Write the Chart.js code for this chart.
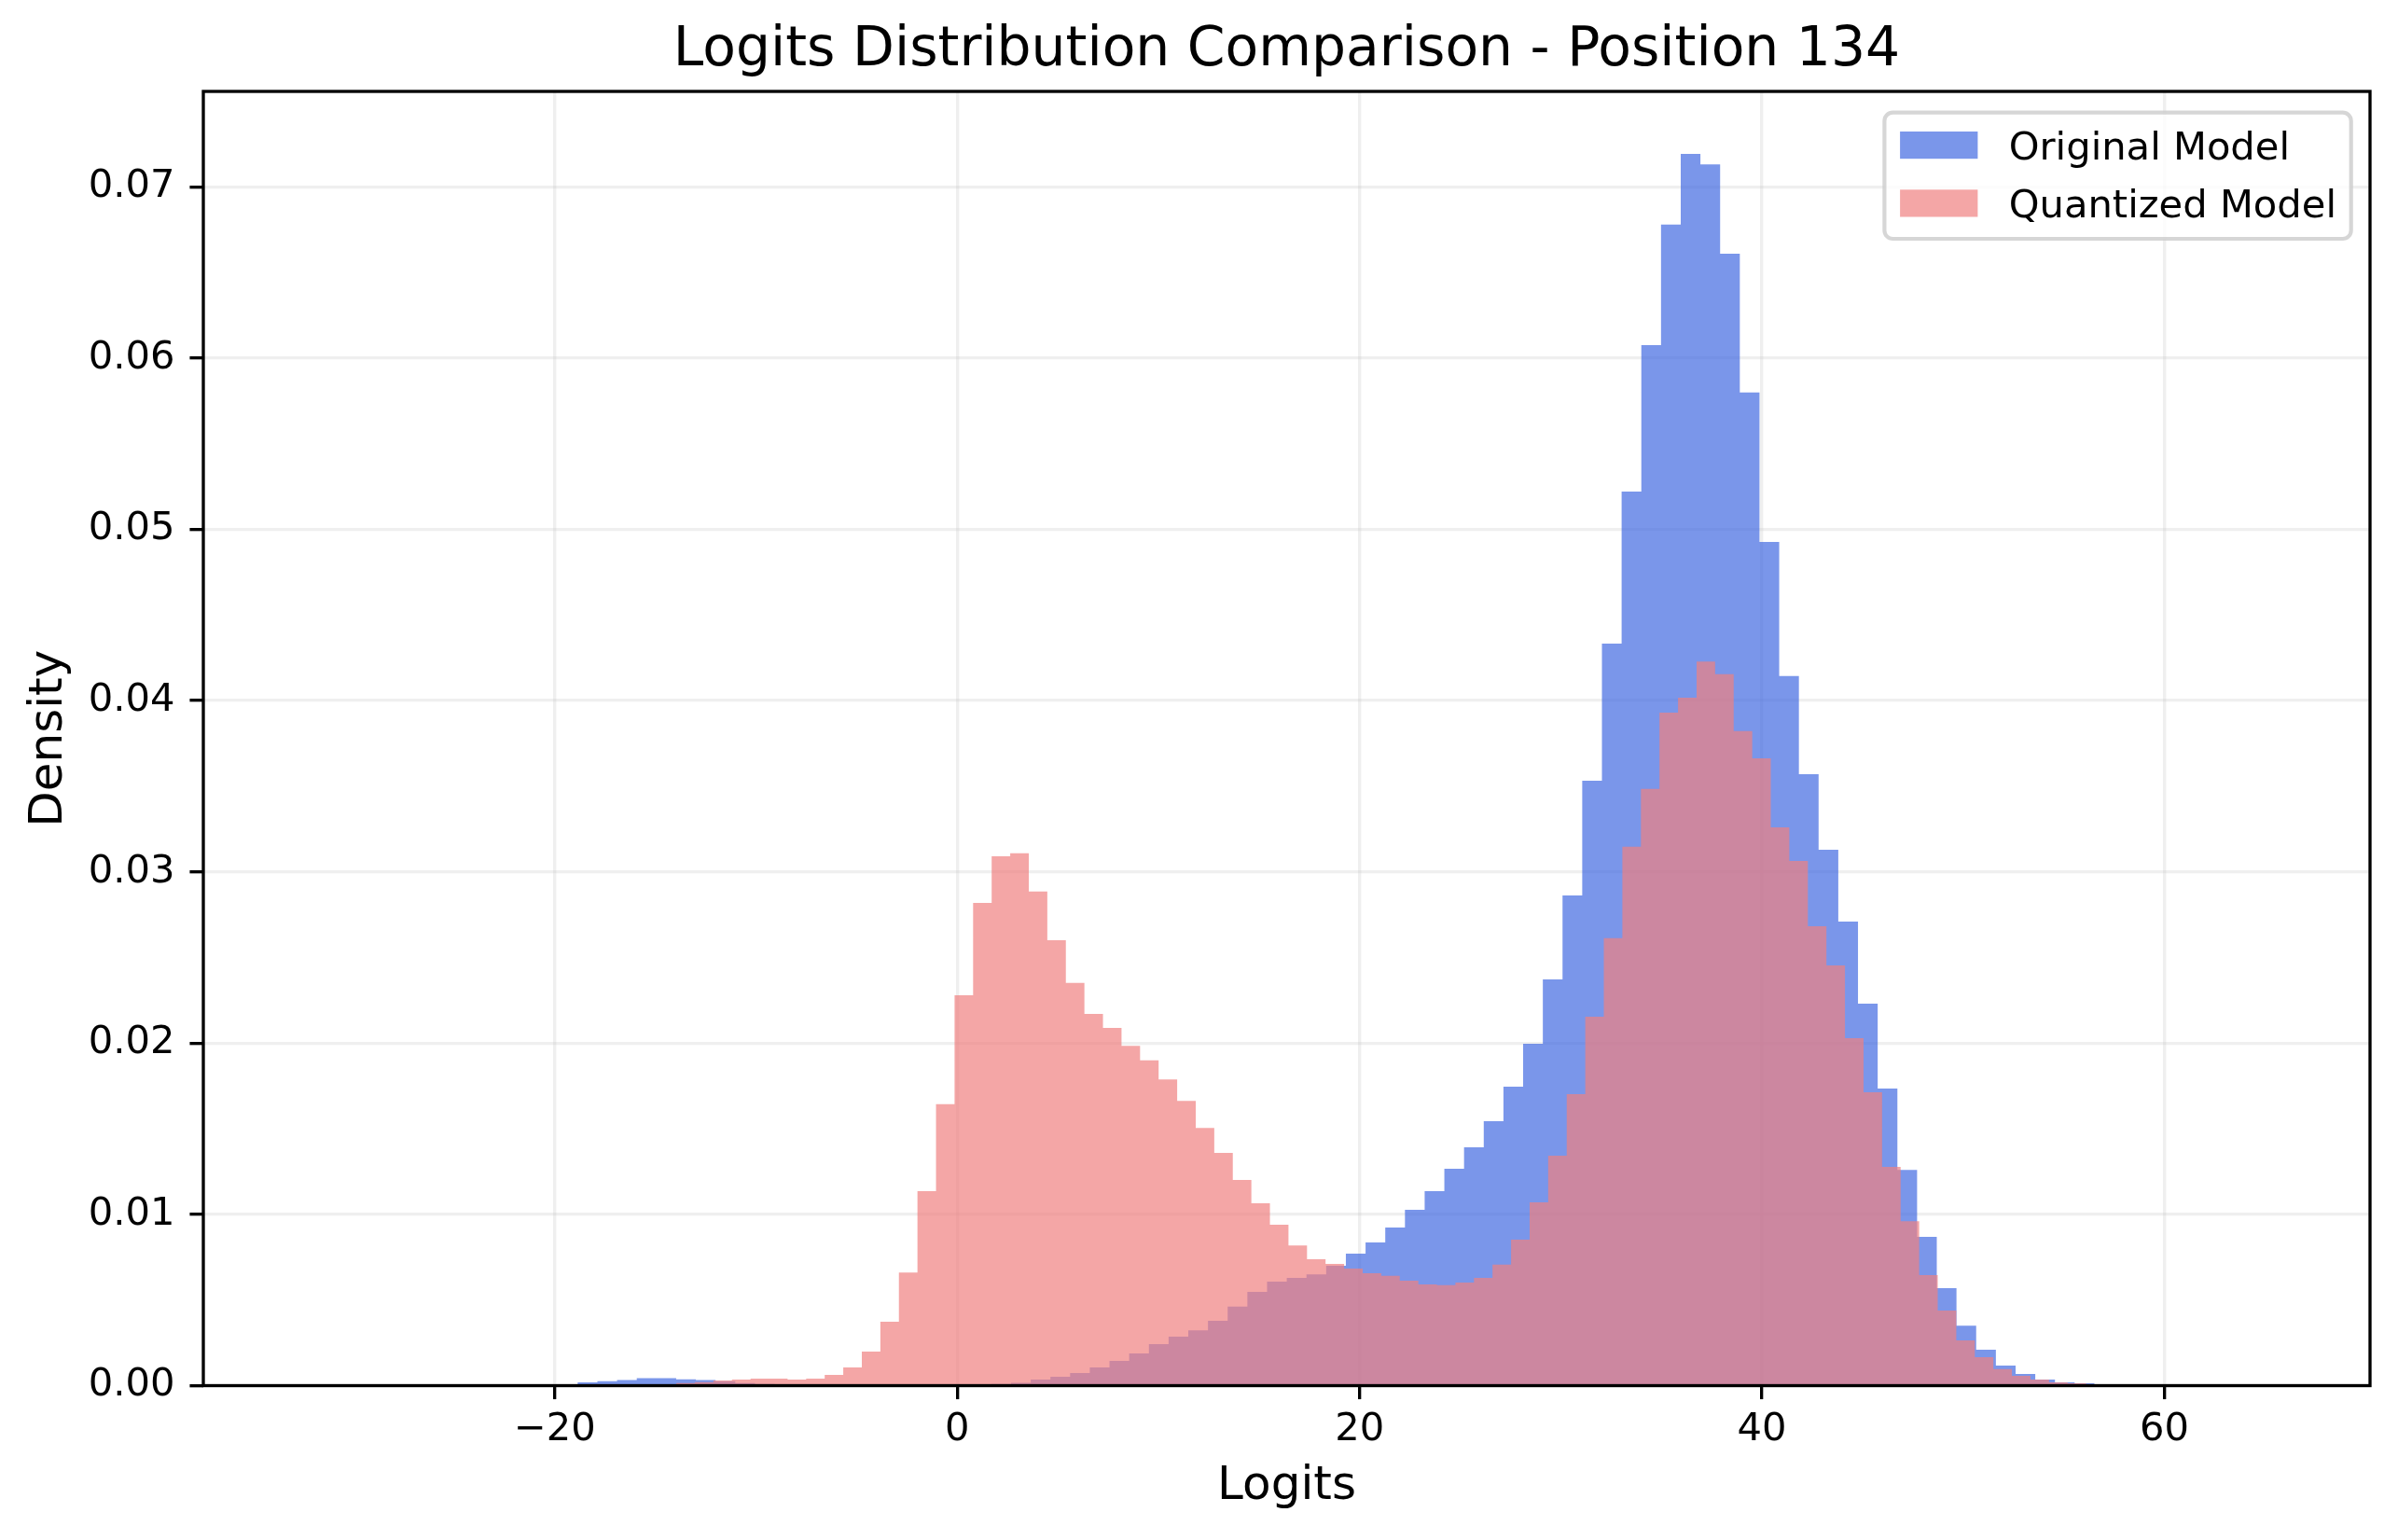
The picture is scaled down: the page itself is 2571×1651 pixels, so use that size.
<!DOCTYPE html>
<html>
<head>
<meta charset="utf-8">
<script src="https://cdn.jsdelivr.net/npm/chart.js@4.4.0/dist/chart.umd.min.js"></script>
<style>
html,body{margin:0;padding:0;background:#ffffff;overflow:hidden}
canvas{display:block}
</style>
</head>
<body>
<canvas id="c" width="2571" height="1651" style="width:2571px;height:1651px"></canvas>
<script>
// ---------------- data ----------------
const chartTitle = 'Logits Distribution Comparison - Position 134';
const xAxisLabel = 'Logits';
const yAxisLabel = 'Density';
const seriesLabels = ['Original Model', 'Quantized Model'];

// both histograms use 100 equal-width bins over their own data range
const binCount = 100;
const originalRange = [-32.57, 65.33];
const quantizedRange = [-26.87, 65.33];

const originalDensity = [
  0.00001, 0, 0, 0, 0, 0, 0, 0, 0, 0.00001,
  0.00001, 0.00002, 0.00003, 0.00006, 0.00019, 0.00026, 0.00032, 0.00043, 0.00043, 0.00037,
  0.00032, 0.00026, 0.00015, 0.00010, 0.00007, 0.00005, 0.00004, 0.00003, 0.00003, 0.00002,
  0.00002, 0.00002, 0.00003, 0.00003, 0.00004, 0.00010, 0.00017, 0.00035, 0.00052, 0.00073,
  0.00106, 0.00144, 0.00188, 0.00242, 0.00286, 0.00323, 0.00379, 0.00461, 0.00548, 0.00607,
  0.00629, 0.00650, 0.00700, 0.00771, 0.00836, 0.00923, 0.01026, 0.01136, 0.01266, 0.01392,
  0.01544, 0.01746, 0.01996, 0.02372, 0.02862, 0.03532, 0.04333, 0.05220, 0.06076, 0.06779,
  0.07192, 0.07131, 0.06609, 0.05799, 0.04926, 0.04143, 0.03570, 0.03129, 0.02710, 0.02230,
  0.01735, 0.01260, 0.00869, 0.00569, 0.00350, 0.00210, 0.00117, 0.00068, 0.00035, 0.00019,
  0.00014, 0.00006, 0.00004, 0.00002, 0.00001, 0.00001, 0, 0, 0, 0.00001
];

const quantizedDensity = [
  0.00001, 0, 0, 0, 0, 0, 0, 0, 0, 0,
  0, 0.00002, 0.00003, 0.00005, 0.00015, 0.00020, 0.00030, 0.00035, 0.00041, 0.00041,
  0.00035, 0.00041, 0.00063, 0.00106, 0.00199, 0.00373, 0.00661, 0.01136, 0.01643, 0.02280,
  0.02818, 0.03091, 0.03108, 0.02885, 0.02601, 0.02351, 0.02170, 0.02089, 0.01984, 0.01899,
  0.01788, 0.01663, 0.01505, 0.01359, 0.01201, 0.01065, 0.00940, 0.00819, 0.00738, 0.00711,
  0.00684, 0.00656, 0.00642, 0.00613, 0.00591, 0.00587, 0.00602, 0.00629, 0.00707, 0.00852,
  0.01070, 0.01343, 0.01702, 0.02154, 0.02613, 0.03147, 0.03485, 0.03930, 0.04017, 0.04228,
  0.04154, 0.03822, 0.03663, 0.03260, 0.03064, 0.02682, 0.02454, 0.02029, 0.01713, 0.01277,
  0.00960, 0.00645, 0.00438, 0.00264, 0.00166, 0.00097, 0.00057, 0.00035, 0.00019, 0.00014,
  0.00006, 0.00004, 0.00002, 0.00001, 0, 0, 0, 0, 0, 0.00001
];

const xTickValues = [-20, 0, 20, 40, 60];
const yTickValues = [0, 0.01, 0.02, 0.03, 0.04, 0.05, 0.06, 0.07];
const xLimits = [-37.47, 70.22];
const yLimits = [0, 0.07557];

// ---------------- build histogram outlines ----------------
function histogramPoints(range, density) {
  const width = (range[1] - range[0]) / binCount;
  const pts = density.map((d, i) => ({ x: range[0] + i * width, y: d }));
  pts.push({ x: range[1], y: density[density.length - 1] });
  return pts;
}

const FONT = "'DejaVu Sans'";
Chart.defaults.font.family = FONT;
Chart.defaults.color = '#000000';

const PT = 300 / 72; // matplotlib points -> pixels at 300 dpi
const GRID_COLOR = 'rgba(176,176,176,0.2)';

const mplFrameAndLegend = {
  id: 'mplFrameAndLegend',
  afterDraw(chart) {
    const { ctx, chartArea: a } = chart;
    ctx.save();
    // axes spines
    ctx.strokeStyle = '#000000';
    ctx.lineWidth = 0.8 * PT;
    ctx.strokeRect(a.left, a.top, a.right - a.left, a.bottom - a.top);

    // legend (upper right, inside axes)
    const fx = a.right - 20.3 - 500.3, fy = a.top + 22.7, fw = 500.3, fh = 135.3;
    ctx.beginPath();
    if (ctx.roundRect) ctx.roundRect(fx, fy, fw, fh, 9); else ctx.rect(fx, fy, fw, fh);
    ctx.fillStyle = 'rgba(255,255,255,0.8)';
    ctx.fill();
    ctx.lineWidth = 1.0 * PT;
    ctx.strokeStyle = 'rgba(204,204,204,0.8)';
    ctx.stroke();

    const rows = [fy + 20.3, fy + 82.6];
    chart.data.datasets.forEach((ds, i) => {
      ctx.fillStyle = ds.backgroundColor;
      ctx.fillRect(fx + 16.7, rows[i], 83.3, 29.2);
      ctx.fillStyle = '#000000';
      ctx.font = (10 * PT) + 'px ' + FONT;
      ctx.textAlign = 'left';
      ctx.textBaseline = 'alphabetic';
      ctx.fillText(ds.label, fx + 133.3, rows[i] + 14.6 + 15.2);
    });
    ctx.restore();
  }
};

new Chart(document.getElementById('c'), {
  type: 'line',
  data: {
    datasets: [
      {
        label: seriesLabels[0],
        data: histogramPoints(originalRange, originalDensity),
        stepped: true,
        fill: 'origin',
        backgroundColor: 'rgba(65,105,225,0.7)',
        borderColor: 'rgba(0,0,0,0)',
        borderWidth: 0,
        pointRadius: 0,
        pointHoverRadius: 0,
        order: 2
      },
      {
        label: seriesLabels[1],
        data: histogramPoints(quantizedRange, quantizedDensity),
        stepped: true,
        fill: 'origin',
        backgroundColor: 'rgba(240,128,128,0.7)',
        borderColor: 'rgba(0,0,0,0)',
        borderWidth: 0,
        pointRadius: 0,
        pointHoverRadius: 0,
        order: 1
      }
    ]
  },
  options: {
    responsive: false,
    animation: false,
    devicePixelRatio: 1,
    events: [],
    layout: { padding: { left: 0, right: 30, top: 0, bottom: 0 } },
    plugins: {
      legend: { display: false },
      tooltip: { enabled: false },
      title: {
        display: true,
        text: chartTitle,
        fullSize: false,
        color: '#000000',
        font: { family: FONT, size: 14 * PT, weight: 'normal', lineHeight: 1.2 },
        padding: { top: 19.8, bottom: 8.2 }
      }
    },
    scales: {
      x: {
        type: 'linear',
        min: xLimits[0],
        max: xLimits[1],
        z: 1,
        afterBuildTicks: (scale) => { scale.ticks = xTickValues.map(v => ({ value: v })); },
        afterFit: (scale) => { scale.height = 165.5; },
        ticks: {
          autoSkip: false,
          maxRotation: 0,
          minRotation: 0,
          padding: 8.5,
          color: '#000000',
          font: { family: FONT, size: 10 * PT },
          callback: (v) => (v < 0 ? '\u2212' + Math.abs(v) : String(v))
        },
        grid: {
          color: GRID_COLOR,
          lineWidth: 0.8 * PT,
          drawTicks: true,
          tickLength: 3.5 * PT,
          tickColor: '#000000',
          tickWidth: 0.8 * PT
        },
        border: { display: false },
        title: {
          display: true,
          text: xAxisLabel,
          color: '#000000',
          font: { family: FONT, size: 12 * PT, lineHeight: 1.2 },
          padding: { top: 0, bottom: 27 }
        }
      },
      y: {
        type: 'linear',
        min: yLimits[0],
        max: yLimits[1],
        z: 1,
        afterBuildTicks: (scale) => { scale.ticks = yTickValues.map(v => ({ value: v })); },
        afterFit: (scale) => { scale.width = 218; },
        ticks: {
          autoSkip: false,
          padding: 16,
          color: '#000000',
          font: { family: FONT, size: 10 * PT },
          callback: (v) => Number(v).toFixed(2)
        },
        grid: {
          color: GRID_COLOR,
          lineWidth: 0.8 * PT,
          drawTicks: true,
          tickLength: 3.5 * PT,
          tickColor: '#000000',
          tickWidth: 0.8 * PT
        },
        border: { display: false },
        title: {
          display: true,
          text: yAxisLabel,
          color: '#000000',
          font: { family: FONT, size: 12 * PT, lineHeight: 1.2 },
          padding: { top: 22.7, bottom: 0 }
        }
      }
    }
  },
  plugins: [mplFrameAndLegend]
});
</script>
</body>
</html>
